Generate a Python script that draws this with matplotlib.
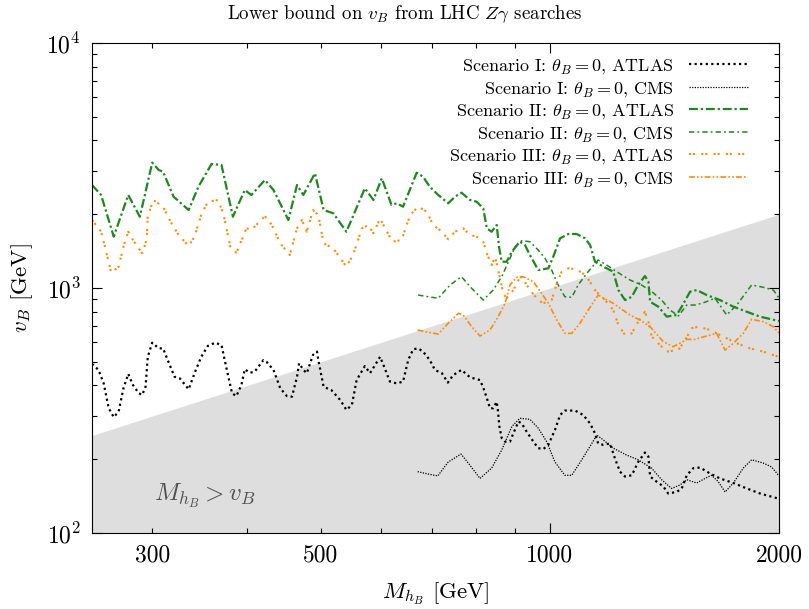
import matplotlib
matplotlib.use('Agg')
import matplotlib.pyplot as plt
from matplotlib.ticker import FixedLocator, FixedFormatter, NullFormatter

plt.rcParams['font.family'] = 'serif'
plt.rcParams['font.serif'] = ['cmr10']
plt.rcParams['mathtext.fontset'] = 'cm'
plt.rcParams['axes.formatter.use_mathtext'] = True

# Scenario I (black)
mass_I_atlas = [250,251,255,259,263,267,271,275,279,283,288,291,294,296,300,306,310,317,321,326,
                335,341,348,355,363,370,376,382,387,393,397,403,409,420,424,433,442,451,458,465,
                468,474,479,488,494,496,504,516,530,540,549,557,571,580,589,598,604,616,629,641,
                651,661,671,681,695,706,721,734,746,765,785,809,817,826,834,842,851,854,858,864,
                873,886,895,909,918,932,951,965,980,995,1015,1031,1046,1079,1106,1129,1146,1157,1175,1199,
                1217,1236,1255,1281,1306,1333,1347,1354,1381,1409,1430,1467,1490,1513,1543,1575,1623,1673,1742,1814,
                1888,1966,2000]
vB_I_atlas = [490,485,463,408,323,297,313,390,446,402,372,366,395,524,598,567,567,477,434,428,
              386,449,524,580,598,585,463,372,362,402,466,451,455,508,500,463,390,362,360,434,
              493,463,449,533,550,508,395,383,349,318,333,421,480,449,485,524,485,415,408,415,
              508,562,567,550,508,463,449,411,441,463,432,421,393,355,323,323,343,318,272,244,
              236,236,255,285,280,259,236,222,220,229,263,303,316,316,303,280,255,232,229,232,
              202,178,170,172,195,213,205,170,162,155,145,147,152,172,184,185,175,167,160,152,
              145,140,138]
mass_I_cms = [670,692,712,735,764,785,809,838,864,891,913,941,965,990,1015,1046,1068,1101,1135,1152,
              1175,1211,1261,1306,1360,1402,1445,1482,1513,1559,1599,1631,1664,1699,1742,1795,1841,1907,1956,2000]
vB_I_cms = [178,174,171,195,210,189,167,184,218,272,294,291,268,236,195,172,172,199,232,251,
            240,222,208,199,184,165,152,157,165,160,167,172,162,147,160,184,199,193,186,171]

# Scenario II (green)
mass_II_atlas = [250,257,267,279,289,300,306,310,320,335,345,359,370,383,397,405,422,433,453,465,
                 474,491,504,519,540,571,586,601,619,629,641,668,681,695,713,735,750,765,785,801,
                 817,826,838,851,857,864,877,891,913,927,941,965,995,1010,1031,1057,1084,1112,1129,1146,
                 1175,1211,1230,1255,1281,1306,1333,1347,1354,1388,1424,1467,1490,1528,1559,1607,1673,1742,1814,1888,
                 2000]
vB_II_atlas = [2633,2397,1620,2397,1954,3247,3031,2983,2359,2081,2591,3207,3177,1954,2512,2397,2759,2512,1895,2633,
               2397,2939,2081,2018,1697,2552,2287,2804,2182,2217,2147,2955,2846,2591,2397,2217,2359,2449,2287,2250,
               2115,1753,1697,1808,1474,1280,1280,1407,1545,1498,1364,1184,1203,1342,1595,1661,1661,1595,1498,1280,
               1222,1166,981,893,921,1029,1119,1061,879,839,764,776,839,966,981,936,893,839,800,764,
               733]
mass_II_cms = [671,692,713,739,765,789,817,842,864,886,900,918,941,965,985,1005,1025,1046,1068,1089,
               1118,1157,1187,1224,1274,1319,1361,1402,1438,1475,1513,1551,1591,1648,1707,1760,1841,1907,1966,2000]
vB_II_cms = [936,921,908,1029,1112,997,893,981,1112,1322,1474,1560,1545,1429,1322,1184,1029,921,916,1029,
             1148,1301,1241,1165,1078,1029,966,893,813,769,852,852,870,908,776,852,1029,1007,981,910]

# Scenario III (orange)
mass_III_atlas = [250,257,260,265,271,275,279,283,291,295,296,301,310,318,325,335,341,348,355,366,
                  372,380,387,395,399,405,422,431,442,455,465,472,479,488,496,504,519,540,551,566,
                  577,586,598,607,621,638,655,671,689,702,721,735,750,769,785,801,817,826,838,847,
                  855,868,877,895,909,918,941,965,980,1005,1021,1036,1057,1084,1112,1129,1140,1181,1211,1230,
                  1255,1281,1306,1333,1347,1361,1395,1424,1475,1505,1536,1567,1623,1690,1760,1832,1907,2000]
vB_III_atlas = [1895,1697,1474,1155,1222,1474,1697,1570,1386,1570,1954,2287,2147,1837,1646,1484,1620,1986,2250,2287,
                2018,1474,1393,1620,1753,1725,1967,1808,1522,1364,1753,1895,1697,2081,1986,1522,1452,1222,1364,1753,
                1808,1672,1925,1753,1545,1570,1986,2147,2048,1808,1697,1580,1697,1753,1646,1620,1545,1386,1241,1342,
                1184,951,908,981,1078,1112,981,893,866,893,1045,1166,1203,1192,1130,1061,997,893,813,706,
                643,653,729,800,729,633,585,550,558,613,685,695,674,633,595,567,550,523]
mass_III_cms = [670,692,713,735,758,769,789,809,834,855,873,886,904,922,951,975,995,1021,1046,1068,
                1095,1123,1157,1211,1274,1313,1354,1409,1452,1482,1513,1551,1607,1656,1699,1742,1795,1841,1907,1966,2000]
vB_III_cms = [674,659,649,718,788,776,695,637,674,764,866,1029,1106,1112,1061,951,866,740,653,653,
              718,813,936,866,776,740,695,604,576,595,617,617,637,653,558,595,653,745,729,695,655]

green = '#1a8a1a'
orange = '#ff8c00'

fig = plt.figure(figsize=(8.09, 6.09), dpi=100)
ax = fig.add_axes([0.1137, 0.1248, 0.8492, 0.8046])
ax.set_xscale('log')
ax.set_yscale('log')
ax.set_xlim(250, 2000)
ax.set_ylim(100, 10000)

# region M_hB > v_B
ax.fill_between([250, 2000], [100, 100], [250, 2000], color='#dedede', lw=0, zorder=0)
ax.text(302, 142, r'$M_{h_B} > v_B$', color='#505050', fontsize=18, va='center', ha='left')

ax.plot(mass_I_atlas, vB_I_atlas, color='black', lw=1.6, ls=(0, (1, 1.5)),
        label=r'Scenario I: $\theta_B = 0$, ATLAS')
ax.plot(mass_I_cms, vB_I_cms, color='black', lw=0.9, ls=(0, (1, 1.1)),
        label=r'Scenario I: $\theta_B = 0$, CMS')
ax.plot(mass_II_atlas, vB_II_atlas, color=green, lw=1.6, ls=(0, (4, 1.3, 1, 1.3)),
        label=r'Scenario II: $\theta_B = 0$, ATLAS')
ax.plot(mass_II_cms, vB_II_cms, color=green, lw=1.1, ls=(0, (3.5, 2, 1.2, 2)),
        label=r'Scenario II: $\theta_B = 0$, CMS')
ax.plot(mass_III_atlas, vB_III_atlas, color=orange, lw=1.5, ls=(0, (1, 0.9, 1, 3)),
        label=r'Scenario III: $\theta_B = 0$, ATLAS')
ax.plot(mass_III_cms, vB_III_cms, color=orange, lw=1.2, ls=(0, (3.5, 1.3, 1, 1.3, 1, 1.3)),
        label=r'Scenario III: $\theta_B = 0$, CMS')

# ticks
ax.xaxis.set_major_locator(FixedLocator([300, 500, 1000, 2000]))
ax.xaxis.set_major_formatter(FixedFormatter(['300', '500', '1000', '2000']))
ax.xaxis.set_minor_locator(FixedLocator([400, 600, 700, 800, 900]))
ax.xaxis.set_minor_formatter(NullFormatter())
ax.yaxis.set_minor_formatter(NullFormatter())
ax.tick_params(which='both', direction='in', top=True, right=True, labelsize=17, width=0.8)
ax.tick_params(axis='y', which='major', length=7, pad=8)
ax.tick_params(axis='y', which='minor', length=3.5)
ax.tick_params(axis='x', which='major', length=3.5, pad=8)
ax.tick_params(axis='x', which='minor', length=3.5)
for t in ax.xaxis.get_major_ticks()[2:3]:
    t.tick1line.set_markersize(7)
    t.tick2line.set_markersize(7)

ax.set_xlabel(r'$M_{h_B}$ [GeV]', fontsize=16.5, labelpad=10)
ax.set_ylabel(r'$v_B$ [GeV]', fontsize=16.5, labelpad=8)
fig.text(0.5, 0.977, r'Lower bound on $v_B$ from LHC $Z\gamma$ searches', fontsize=13.6,
         ha='center', va='center')

ax.legend(loc='upper right', bbox_to_anchor=(0.966, 0.986), borderaxespad=0,
          frameon=False, markerfirst=False, fontsize=13, handlelength=3.3,
          handletextpad=0.83, labelspacing=0.2)

fig.savefig('out.png')
